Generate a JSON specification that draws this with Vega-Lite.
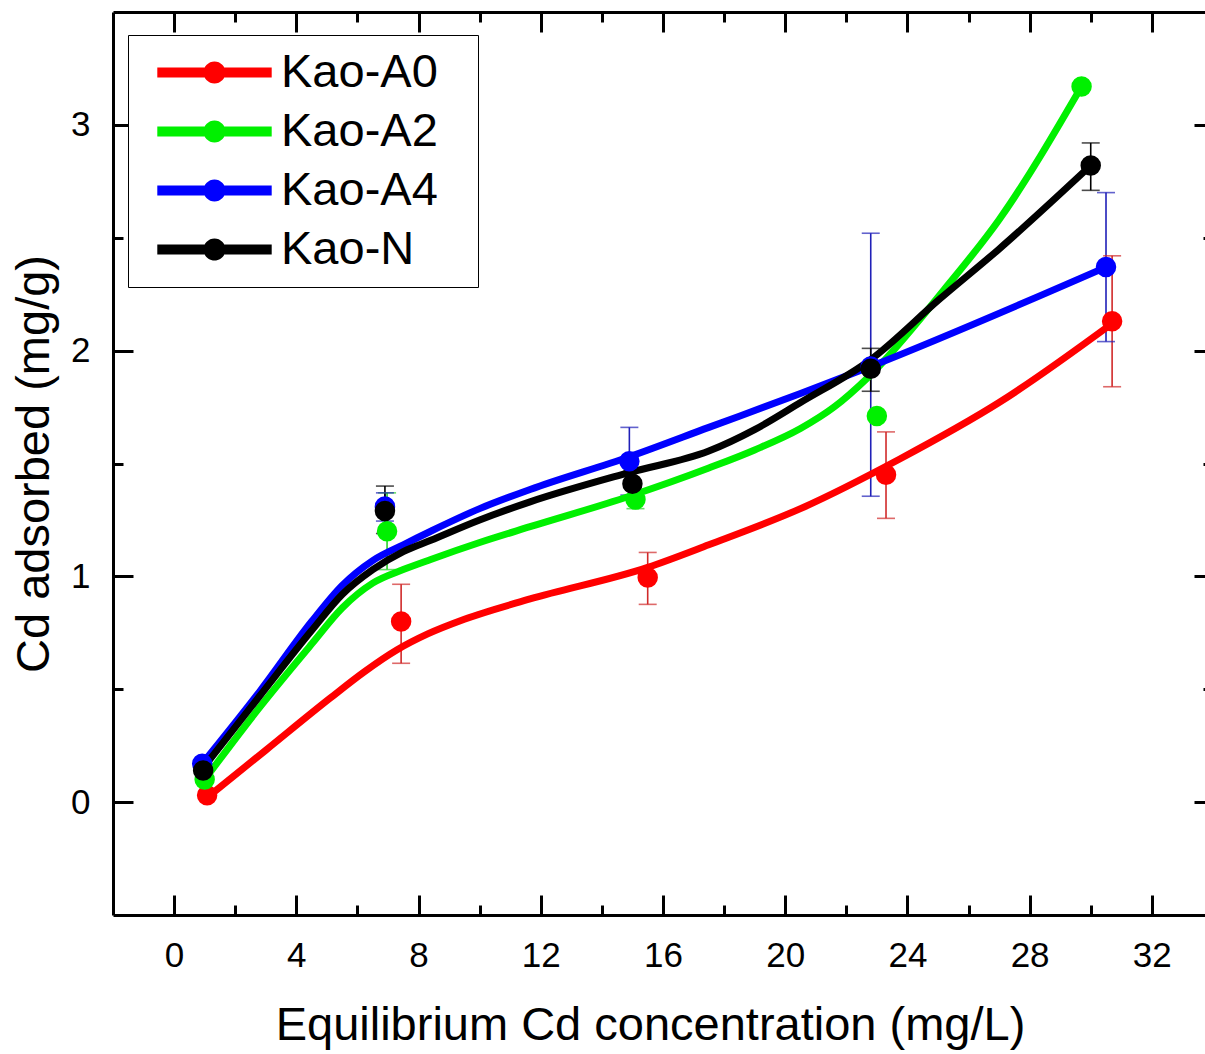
{
  "$schema": "https://vega.github.io/schema/vega-lite/v6.json",
  "width": 1092,
  "height": 903,
  "autosize": {"type": "none"},
  "padding": {"left": 113, "top": 12, "right": 0, "bottom": 139},
  "background": "white",
  "view": {"stroke": null},
  "config": {
    "font": "Liberation Sans",
    "axis": {
      "domainColor": "black",
      "domainWidth": 3,
      "tickColor": "black",
      "tickWidth": 3,
      "grid": false,
      "labelFont": "Liberation Sans",
      "labelFontSize": 35,
      "labelColor": "black",
      "titleFont": "Liberation Sans",
      "titleFontSize": 47,
      "titleFontWeight": "normal",
      "titleColor": "black"
    },
    "legend": {
      "labelFont": "Liberation Sans",
      "labelFontSize": 47,
      "labelColor": "black"
    }
  },
  "datasets": {
    "curves": [
      {"series": "Kao-A0", "x": 1.08, "y": 0.02},
      {"series": "Kao-A0", "x": 3.0, "y": 0.23},
      {"series": "Kao-A0", "x": 5.1, "y": 0.46},
      {"series": "Kao-A0", "x": 6.2, "y": 0.575},
      {"series": "Kao-A0", "x": 7.3, "y": 0.675},
      {"series": "Kao-A0", "x": 8.3, "y": 0.745},
      {"series": "Kao-A0", "x": 9.5, "y": 0.81},
      {"series": "Kao-A0", "x": 11.65, "y": 0.9},
      {"series": "Kao-A0", "x": 15.5, "y": 1.04},
      {"series": "Kao-A0", "x": 17.5, "y": 1.14},
      {"series": "Kao-A0", "x": 20.5, "y": 1.3},
      {"series": "Kao-A0", "x": 23.75, "y": 1.52},
      {"series": "Kao-A0", "x": 27.0, "y": 1.77},
      {"series": "Kao-A0", "x": 30.7, "y": 2.12},
      {"series": "Kao-A2", "x": 1.0, "y": 0.1},
      {"series": "Kao-A2", "x": 2.8, "y": 0.42},
      {"series": "Kao-A2", "x": 4.5, "y": 0.7},
      {"series": "Kao-A2", "x": 5.5, "y": 0.86},
      {"series": "Kao-A2", "x": 6.5, "y": 0.97},
      {"series": "Kao-A2", "x": 7.5, "y": 1.03},
      {"series": "Kao-A2", "x": 8.4, "y": 1.075},
      {"series": "Kao-A2", "x": 10.0, "y": 1.15},
      {"series": "Kao-A2", "x": 11.65, "y": 1.22},
      {"series": "Kao-A2", "x": 14.9, "y": 1.355},
      {"series": "Kao-A2", "x": 17.5, "y": 1.48},
      {"series": "Kao-A2", "x": 19.0, "y": 1.56},
      {"series": "Kao-A2", "x": 20.5, "y": 1.655},
      {"series": "Kao-A2", "x": 21.6, "y": 1.75},
      {"series": "Kao-A2", "x": 22.7, "y": 1.88},
      {"series": "Kao-A2", "x": 25.2, "y": 2.27},
      {"series": "Kao-A2", "x": 27.0, "y": 2.58},
      {"series": "Kao-A2", "x": 29.7, "y": 3.17},
      {"series": "Kao-A4", "x": 0.92, "y": 0.17},
      {"series": "Kao-A4", "x": 2.8, "y": 0.49},
      {"series": "Kao-A4", "x": 4.5, "y": 0.8},
      {"series": "Kao-A4", "x": 5.5, "y": 0.96},
      {"series": "Kao-A4", "x": 6.5, "y": 1.07},
      {"series": "Kao-A4", "x": 7.5, "y": 1.14},
      {"series": "Kao-A4", "x": 8.4, "y": 1.2},
      {"series": "Kao-A4", "x": 10.0, "y": 1.3},
      {"series": "Kao-A4", "x": 11.65, "y": 1.385},
      {"series": "Kao-A4", "x": 14.9, "y": 1.53},
      {"series": "Kao-A4", "x": 17.5, "y": 1.66},
      {"series": "Kao-A4", "x": 20.5, "y": 1.81},
      {"series": "Kao-A4", "x": 22.8, "y": 1.93},
      {"series": "Kao-A4", "x": 30.5, "y": 2.37},
      {"series": "Kao-N", "x": 0.92, "y": 0.146},
      {"series": "Kao-N", "x": 2.8, "y": 0.47},
      {"series": "Kao-N", "x": 4.5, "y": 0.76},
      {"series": "Kao-N", "x": 5.5, "y": 0.92},
      {"series": "Kao-N", "x": 6.5, "y": 1.03},
      {"series": "Kao-N", "x": 7.5, "y": 1.11},
      {"series": "Kao-N", "x": 8.4, "y": 1.16},
      {"series": "Kao-N", "x": 10.0, "y": 1.25},
      {"series": "Kao-N", "x": 11.65, "y": 1.33},
      {"series": "Kao-N", "x": 14.9, "y": 1.46},
      {"series": "Kao-N", "x": 17.5, "y": 1.555},
      {"series": "Kao-N", "x": 19.0, "y": 1.65},
      {"series": "Kao-N", "x": 20.5, "y": 1.77},
      {"series": "Kao-N", "x": 22.8, "y": 1.96},
      {"series": "Kao-N", "x": 25.07, "y": 2.23},
      {"series": "Kao-N", "x": 27.0, "y": 2.45},
      {"series": "Kao-N", "x": 30.0, "y": 2.82}
    ],
    "points": [
      {"series": "Kao-A0", "x": 1.08, "y": 0.03},
      {"series": "Kao-A0", "x": 7.43, "y": 0.8},
      {"series": "Kao-A0", "x": 15.5, "y": 0.995},
      {"series": "Kao-A0", "x": 23.3, "y": 1.45},
      {"series": "Kao-A0", "x": 30.7, "y": 2.13},
      {"series": "Kao-A2", "x": 1.0, "y": 0.1},
      {"series": "Kao-A2", "x": 6.97, "y": 1.2},
      {"series": "Kao-A2", "x": 15.1, "y": 1.34},
      {"series": "Kao-A2", "x": 23.0, "y": 1.71},
      {"series": "Kao-A2", "x": 29.7, "y": 3.17},
      {"series": "Kao-A4", "x": 0.92, "y": 0.17},
      {"series": "Kao-A4", "x": 6.9, "y": 1.31},
      {"series": "Kao-A4", "x": 14.9, "y": 1.51},
      {"series": "Kao-A4", "x": 22.8, "y": 1.93},
      {"series": "Kao-A4", "x": 30.5, "y": 2.37},
      {"series": "Kao-N", "x": 0.95, "y": 0.14},
      {"series": "Kao-N", "x": 6.9, "y": 1.29},
      {"series": "Kao-N", "x": 15.0, "y": 1.41},
      {"series": "Kao-N", "x": 22.8, "y": 1.92},
      {"series": "Kao-N", "x": 30.0, "y": 2.82}
    ],
    "errors": [
      {"series": "Kao-A0", "x": 7.43, "lo": 0.615, "hi": 0.965},
      {"series": "Kao-A0", "x": 15.5, "lo": 0.876, "hi": 1.106},
      {"series": "Kao-A0", "x": 23.3, "lo": 1.257, "hi": 1.64},
      {"series": "Kao-A0", "x": 30.7, "lo": 1.84, "hi": 2.42},
      {"series": "Kao-A2", "x": 6.97, "lo": 1.03, "hi": 1.37},
      {"series": "Kao-A2", "x": 15.1, "lo": 1.3, "hi": 1.38},
      {"series": "Kao-A4", "x": 6.9, "lo": 1.245, "hi": 1.37},
      {"series": "Kao-A4", "x": 14.9, "lo": 1.36, "hi": 1.66},
      {"series": "Kao-A4", "x": 22.8, "lo": 1.355, "hi": 2.52},
      {"series": "Kao-A4", "x": 30.5, "lo": 2.04, "hi": 2.7},
      {"series": "Kao-N", "x": 6.9, "lo": 1.19, "hi": 1.4},
      {"series": "Kao-N", "x": 15.0, "lo": 1.34, "hi": 1.47},
      {"series": "Kao-N", "x": 22.8, "lo": 1.82, "hi": 2.01},
      {"series": "Kao-N", "x": 30.0, "lo": 2.71, "hi": 2.92}
    ]
  },
  "resolve": {"axis": {"x": "independent", "y": "independent"}, "scale": {"color": "independent"}},
  "layer": [
    {
      "data": {"name": "errors"},
      "mark": {"type": "rule", "strokeWidth": 1.6},
      "encoding": {
        "x": {"field": "x", "type": "quantitative", "scale": {"domain": [-2, 33.74], "nice": false, "zero": false},
          "axis": {"orient": "top", "values": [0, 2, 4, 6, 8, 10, 12, 14, 16, 18, 20, 22, 24, 26, 28, 30, 32], "labels": false, "title": null,
            "tickSize": {"condition": {"test": "datum.value % 4 === 0", "value": -20}, "value": -10}}},
        "y": {"field": "lo", "type": "quantitative", "scale": {"domain": [-0.5, 3.5], "nice": false, "zero": false},
          "axis": {"orient": "right", "domain": false, "values": [0, 0.5, 1, 1.5, 2, 2.5, 3], "labels": false, "title": null,
            "tickSize": {"condition": {"test": "datum.value % 1 === 0", "value": -11}, "value": -2}}},
        "y2": {"field": "hi"},
        "color": {"field": "series", "type": "nominal", "legend": null,
          "scale": {"domain": ["Kao-A0", "Kao-A2", "Kao-A4", "Kao-N"], "range": ["#d02a2a", "#2ad02a", "#2020b8", "#000000"]}}
      }
    },
    {
      "data": {"name": "errors"},
      "mark": {"type": "tick", "orient": "horizontal", "size": 18, "thickness": 1.6},
      "encoding": {
        "x": {"field": "x", "type": "quantitative", "axis": null},
        "y": {"field": "lo", "type": "quantitative", "axis": null},
        "color": {"field": "series", "type": "nominal", "legend": null,
          "scale": {"domain": ["Kao-A0", "Kao-A2", "Kao-A4", "Kao-N"], "range": ["#d02a2a", "#2ad02a", "#2020b8", "#000000"]}}
      }
    },
    {
      "data": {"name": "errors"},
      "mark": {"type": "tick", "orient": "horizontal", "size": 18, "thickness": 1.6},
      "encoding": {
        "x": {"field": "x", "type": "quantitative", "axis": null},
        "y": {"field": "hi", "type": "quantitative", "axis": null},
        "color": {"field": "series", "type": "nominal", "legend": null,
          "scale": {"domain": ["Kao-A0", "Kao-A2", "Kao-A4", "Kao-N"], "range": ["#d02a2a", "#2ad02a", "#2020b8", "#000000"]}}
      }
    },
    {
      "data": {"name": "curves"},
      "mark": {"type": "line", "interpolate": "monotone", "strokeWidth": 7, "strokeCap": "round"},
      "encoding": {
        "x": {"field": "x", "type": "quantitative",
          "axis": {"orient": "bottom", "values": [0, 2, 4, 6, 8, 10, 12, 14, 16, 18, 20, 22, 24, 26, 28, 30, 32],
            "labelExpr": "datum.value % 4 === 0 ? datum.label : ''", "labelPadding": 43,
            "tickSize": {"condition": {"test": "datum.value % 4 === 0", "value": -20}, "value": -10},
            "title": "Equilibrium Cd concentration (mg/L)", "titlePadding": 29, "titleX": 537}},
        "y": {"field": "y", "type": "quantitative",
          "axis": {"orient": "left", "values": [0, 0.5, 1, 1.5, 2, 2.5, 3],
            "labelExpr": "datum.value % 1 === 0 ? format(datum.value, 'd') : ''", "labelPadding": 43,
            "tickSize": {"condition": {"test": "datum.value % 1 === 0", "value": -20}, "value": -10},
            "title": "Cd adsorbed (mg/g)", "titlePadding": 12}},
        "color": {"field": "series", "type": "nominal", "legend": null,
          "scale": {"domain": ["Kao-A0", "Kao-A2", "Kao-A4", "Kao-N"], "range": ["#ff0000", "#00f000", "#0000ff", "#000000"]}},
        "order": {"field": "x", "type": "quantitative"}
      }
    },
    {
      "data": {"name": "points"},
      "mark": {"type": "point", "shape": "circle", "filled": true, "size": 420, "opacity": 1},
      "encoding": {
        "x": {"field": "x", "type": "quantitative", "axis": null},
        "y": {"field": "y", "type": "quantitative", "axis": null},
        "color": {"field": "series", "type": "nominal",
          "scale": {"domain": ["Kao-A0", "Kao-A2", "Kao-A4", "Kao-N"], "range": ["#ff0000", "#00f000", "#0000ff", "#000000"]},
          "legend": {"title": "\u00a0", "titleOrient": "right", "titlePadding": 26, "titleFontSize": 8,
            "orient": "none", "legendX": 15, "legendY": 23,
            "symbolType": "M-5.2,-0.45 L5.2,-0.45 L5.2,0.45 L-5.2,0.45 Z M1,0 A1,1 0 1,1 -1,0 A1,1 0 1,1 1,0 Z",
            "symbolSize": 484, "symbolStrokeWidth": 0, "symbolOpacity": 1,
            "symbolOffset": 49, "labelOffset": 43, "padding": 14, "rowPadding": 11,
            "strokeColor": "black", "fillColor": "white", "labelLimit": 400}}
      }
    }
  ]
}
